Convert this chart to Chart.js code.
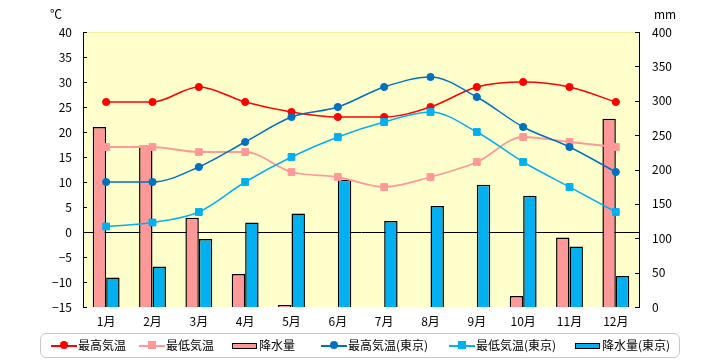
<!DOCTYPE html>
<html>
<head>
<meta charset="utf-8">
<script src="https://cdn.jsdelivr.net/npm/chart.js@4/dist/chart.umd.min.js"></script>
<style>
  html, body { margin: 0; padding: 0; background: #fff; }
  #wrap { position: relative; width: 720px; height: 360px; }
  canvas { position: absolute; left: 0; top: 0; }
  .unit { position: absolute; font: 12px 'Noto Sans CJK JP', sans-serif; color: #000; line-height: 12px; }
  #legend { position: absolute; left: 40px; top: 333px; width: 638px; height: 23px; border: 1.5px solid #c8c8c8; border-radius: 6px; box-sizing: content-box; }
  .li { position: absolute; top: 0; height: 23px; }
  .lt { position: absolute; top: 4px; font: 12px 'Noto Sans CJK JP', sans-serif; line-height: 14px; white-space: nowrap; color: #000; }
  .ln { position: absolute; top: 11px; height: 1.5px; }
  .dot { position: absolute; top: 7px; width: 8px; height: 8px; border-radius: 50%; }
  .sq { position: absolute; top: 7px; width: 8px; height: 8px; }
  .box { position: absolute; top: 9px; height: 4px; border: 1.5px solid #000; }
</style>
</head>
<body>
<div id="wrap">
  <canvas id="c" width="720" height="360"></canvas>
  <div class="unit" style="left:50px;top:8px;">℃</div>
  <div class="unit" style="left:654px;top:8px;">mm</div>
  <div id="legend"></div>
</div>
<script>
// ---- data ----
const months = ['1月','2月','3月','4月','5月','6月','7月','8月','9月','10月','11月','12月'];
const maxTemp = [26, 26, 29, 26, 24, 23, 23, 25, 29, 30, 29, 26];
const minTemp = [17, 17, 16, 16, 12, 11, 9, 11, 14, 19, 18, 17];
const rain = [262, 235, 130, 48, 3, 0, 0, 0, 0, 16, 101, 274];
const maxTempTokyo = [10, 10, 13, 18, 23, 25, 29, 31, 27, 21, 17, 12];
const minTempTokyo = [1.1, 1.9, 4, 10, 15, 19, 22, 24, 20, 14, 9, 4];
const rainTokyo = [43, 59, 99, 123, 136, 185, 125, 147, 178, 162, 88, 45];
const seriesNames = ['最高気温','最低気温','降水量','最高気温(東京)','最低気温(東京)','降水量(東京)'];
const tempTicks = {min: -15, max: 40, step: 5};
const rainTicks = {min: 0, max: 400, step: 50};

const C_RED = '#ff0000', C_PINK = '#ff9999', C_BLUE = '#0070c0', C_LBLUE = '#00b0f0';
const FONT = "'Liberation Sans Narrow','Noto Sans CJK JP',sans-serif";

const bgPlugin = {
  id: 'bg',
  beforeDraw(chart) {
    const {ctx, chartArea: a} = chart;
    ctx.save();
    ctx.fillStyle = '#ffffcc';
    ctx.fillRect(a.left, a.top, a.right - a.left, a.bottom - a.top);
    ctx.strokeStyle = '#f2f2a0';
    ctx.lineWidth = 1;
    ctx.beginPath(); ctx.moveTo(a.left, a.top + 0.5); ctx.lineTo(a.right, a.top + 0.5); ctx.stroke();
    ctx.restore();
  },
  afterDatasetsDraw(chart) {
    const {ctx, chartArea: a, scales} = chart;
    ctx.save();
    ctx.strokeStyle = '#000';
    ctx.lineWidth = 1;
    ctx.beginPath();
    scales.y.ticks.forEach(t => {
      const y = Math.round(scales.y.getPixelForValue(t.value)) + 0.5;
      ctx.moveTo(a.left, y); ctx.lineTo(a.left + 4, y);
    });
    scales.y1.ticks.forEach(t => {
      const y = Math.round(scales.y1.getPixelForValue(t.value)) + 0.5;
      ctx.moveTo(a.right - 4, y); ctx.lineTo(a.right, y);
    });
    ctx.stroke();
    ctx.restore();
  }
};

const lineDs = (label, data, color, style, order, width) => ({
  type: 'line', label, data, yAxisID: 'y', order,
  borderColor: color, backgroundColor: color, borderWidth: width,
  pointStyle: style, pointRadius: style === 'rect' ? 4.8 : 3.6,
  pointBorderColor: color, pointBackgroundColor: color, pointBorderWidth: 1,
  cubicInterpolationMode: 'monotone', fill: false
});
const barDs = (label, data, color, order) => ({
  type: 'bar', label, data, yAxisID: 'y1', order,
  backgroundColor: color, borderColor: '#000', borderWidth: 1.5,
  categoryPercentage: 0.58, barPercentage: 1.0
});

const tickFmt = v => String(v).replace('-', '−');

new Chart(document.getElementById('c'), {
  data: {
    labels: months,
    datasets: [
      lineDs(seriesNames[0], maxTemp, C_RED, 'circle', 4, 1.5),
      lineDs(seriesNames[1], minTemp, C_PINK, 'rect', 3, 1.8),
      barDs(seriesNames[2], rain, C_PINK, 5),
      lineDs(seriesNames[3], maxTempTokyo, C_BLUE, 'circle', 2, 1.5),
      lineDs(seriesNames[4], minTempTokyo, C_LBLUE, 'rect', 1, 1.5),
      barDs(seriesNames[5], rainTokyo, C_LBLUE, 6)
    ]
  },
  options: {
    responsive: false,
    animation: false,
    layout: { padding: { top: 32, bottom: 31, left: 0, right: 0 } },
    plugins: { legend: { display: false }, tooltip: { enabled: false } },
    scales: {
      x: {
        grid: { display: false, drawTicks: false },
        border: { display: false },
        ticks: { padding: 7, color: '#000', font: { family: FONT, size: 12 } },
        afterFit(s) { s.height = 22; }
      },
      y: {
        position: 'left',
        min: tempTicks.min, max: tempTicks.max,
        grid: { drawTicks: false, color: c => (c.tick && c.tick.value === 0) ? '#000' : 'rgba(0,0,0,0)', lineWidth: 1 },
        border: { display: true, color: '#000', width: 1 },
        ticks: { stepSize: tempTicks.step, padding: 11, color: '#000', font: { family: FONT, size: 12 }, callback: tickFmt },
        afterFit(s) { s.width = 83; }
      },
      y1: {
        position: 'right',
        min: rainTicks.min, max: rainTicks.max,
        grid: { display: false, drawTicks: false },
        border: { display: true, color: '#000', width: 1 },
        ticks: { stepSize: rainTicks.step, padding: 13, color: '#000', font: { family: FONT, size: 12 } },
        afterFit(s) { s.width = 81; }
      }
    }
  },
  plugins: [bgPlugin]
});

// ---- HTML legend ----
const legendItems = [
  {kind: 'line', mark: 'dot', color: C_RED, x: 10, text: 0},
  {kind: 'line', mark: 'sq', color: C_PINK, x: 98, text: 1},
  {kind: 'box', color: C_PINK, x: 191, text: 2},
  {kind: 'line', mark: 'dot', color: C_BLUE, x: 280, text: 3},
  {kind: 'line', mark: 'sq', color: C_LBLUE, x: 408, text: 4},
  {kind: 'box', color: C_LBLUE, x: 534, text: 5}
];
const lg = document.getElementById('legend');
legendItems.forEach(it => {
  const d = document.createElement('div');
  d.className = 'li';
  d.style.left = it.x + 'px';
  let html = '';
  let tx;
  if (it.kind === 'line') {
    html += `<div class="ln" style="left:0;width:26px;background:${it.color}"></div>`;
    html += `<div class="${it.mark}" style="left:9px;background:${it.color}"></div>`;
    tx = 27;
  } else {
    html += `<div class="box" style="left:0;width:23px;background:${it.color}"></div>`;
    tx = 27;
  }
  html += `<div class="lt" style="left:${tx}px">${seriesNames[it.text]}</div>`;
  d.innerHTML = html;
  lg.appendChild(d);
});
</script>
</body>
</html>
